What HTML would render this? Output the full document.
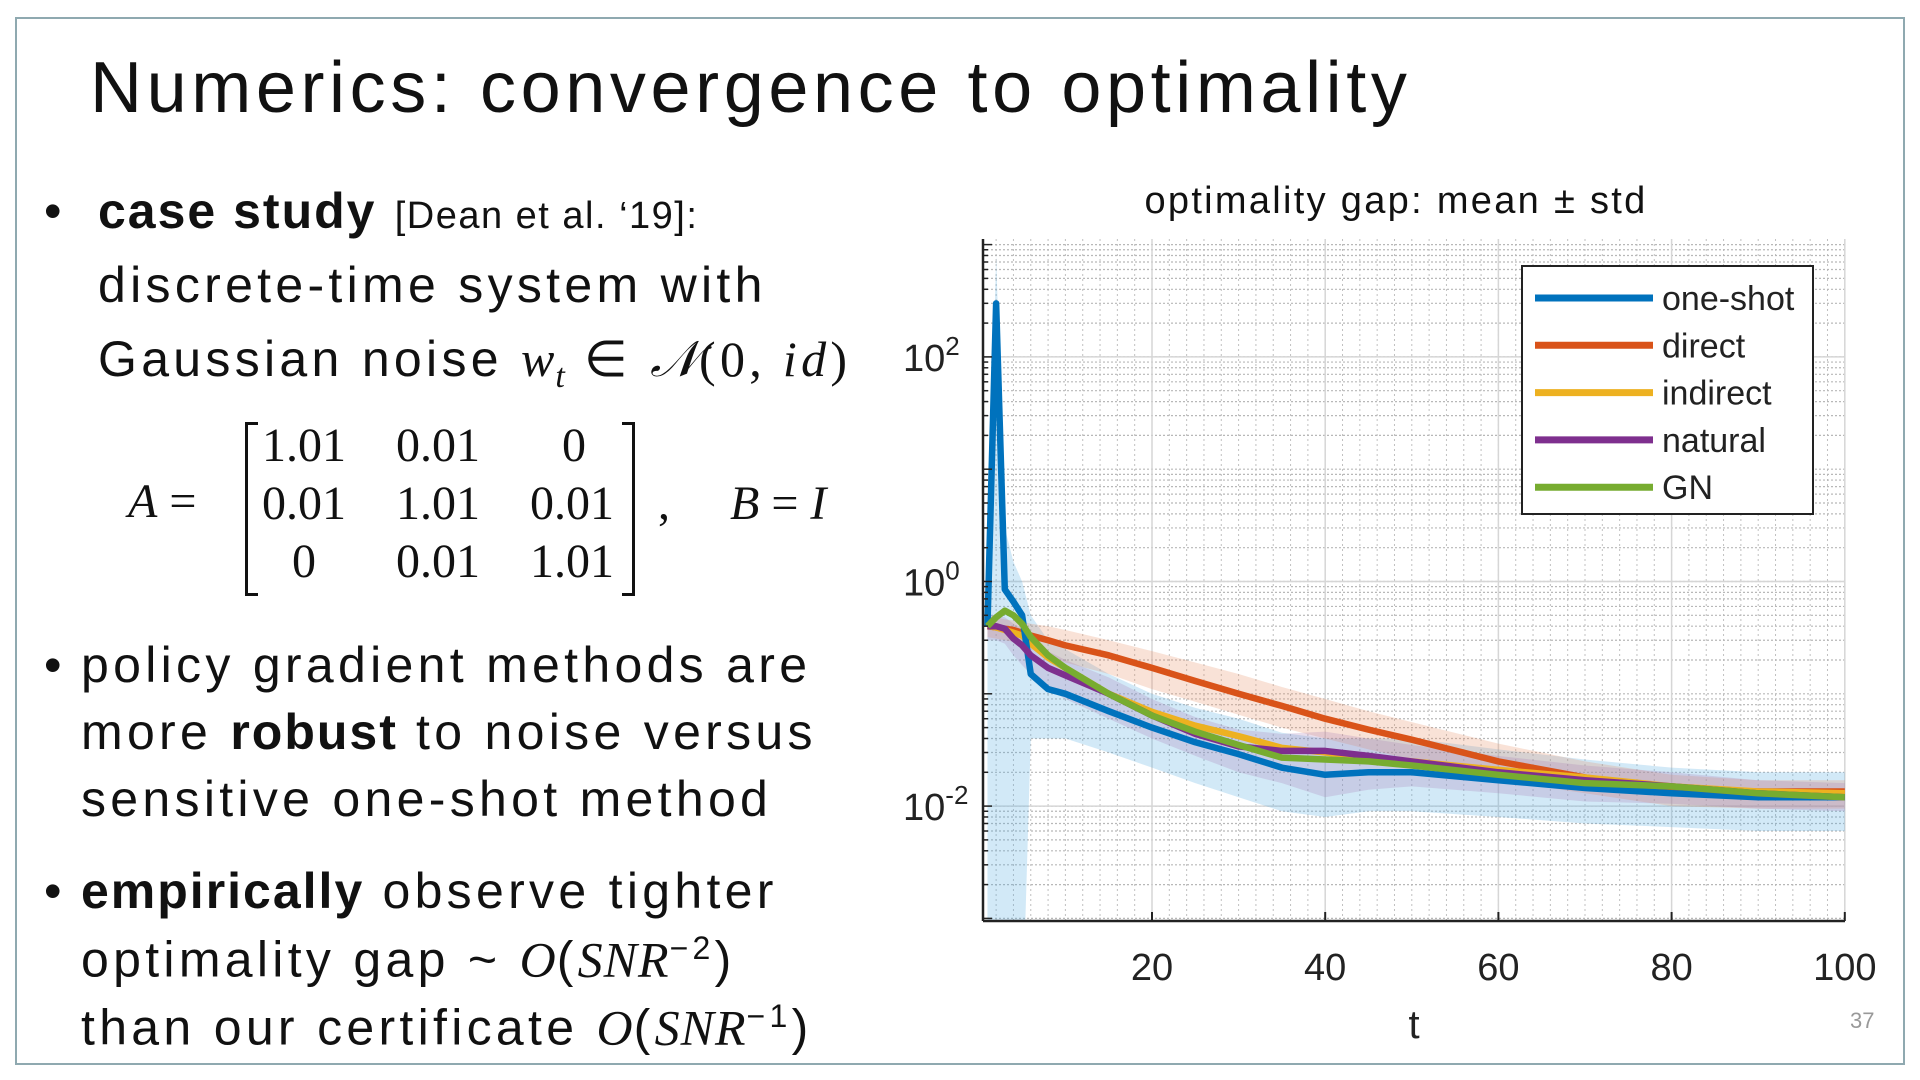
<!DOCTYPE html>
<html><head><meta charset="utf-8">
<style>
html,body{margin:0;padding:0;background:#fff;}
body{width:1920px;height:1080px;position:relative;overflow:hidden;font-family:"Liberation Sans",sans-serif;color:#111;}
.t{position:absolute;white-space:nowrap;line-height:1;}
.body{font-size:50px;letter-spacing:4.3px;}
.m{font-family:"Liberation Serif",serif;font-style:italic;letter-spacing:1px;}
.mx{font-family:"Liberation Serif",serif;font-size:48px;position:absolute;line-height:1;}
</style></head>
<body>
<div style="position:absolute;left:15px;top:17px;width:1886px;height:1044px;border:2px solid #8fa9b0;"></div>
<div class="t" style="left:90px;top:52px;font-size:72px;color:#111;letter-spacing:4.6px;">Numerics: convergence to optimality</div>

<div class="t body" style="left:44px;top:186px;">•</div>
<div class="t body" style="left:98px;top:186px;"><b style="letter-spacing:2px">case study</b> <span style="font-size:38px;letter-spacing:1.5px">[Dean et al. ‘19]:</span></div>
<div class="t body" style="left:98px;top:260px;">discrete-time system with</div>
<div class="t body" style="left:98px;top:334px;">Gaussian noise <span class="m">w<sub style="font-size:34px">t</sub></span> ∈ <span class="m">𝒩</span><span style="font-family:'Liberation Serif',serif">(0, <i>id</i>)</span></div>

<div class="mx" style="left:128px;top:478px;"><i>A</i> =</div>
<div style="position:absolute;left:245px;top:422px;width:10px;height:168px;border:3px solid #111;border-right:none;"></div>
<div style="position:absolute;left:622px;top:422px;width:10px;height:168px;border:3px solid #111;border-left:none;"></div>
<div class="mx" style="left:262px;top:422px;">1.01</div>
<div class="mx" style="left:396px;top:422px;">0.01</div>
<div class="mx" style="left:562px;top:422px;">0</div>
<div class="mx" style="left:262px;top:480px;">0.01</div>
<div class="mx" style="left:396px;top:480px;">1.01</div>
<div class="mx" style="left:530px;top:480px;">0.01</div>
<div class="mx" style="left:292px;top:538px;">0</div>
<div class="mx" style="left:396px;top:538px;">0.01</div>
<div class="mx" style="left:530px;top:538px;">1.01</div>
<div class="mx" style="left:658px;top:480px;">,&nbsp;&nbsp;&nbsp;&nbsp;&nbsp;<i>B</i> = <i>I</i></div>

<div class="t body" style="left:44px;top:640px;letter-spacing:0">•</div>
<div class="t body" style="left:81px;top:640px;">policy gradient methods are</div>
<div class="t body" style="left:81px;top:707px;">more <b style="letter-spacing:2px">robust</b> to noise versus</div>
<div class="t body" style="left:81px;top:774px;">sensitive one-shot method</div>

<div class="t body" style="left:44px;top:866px;letter-spacing:0">•</div>
<div class="t body" style="left:81px;top:866px;"><b style="letter-spacing:2px">empirically</b> observe tighter</div>
<div class="t body" style="left:81px;top:932px;">optimality gap ~ <span class="m">O</span>(<span class="m">SNR</span><sup style="font-size:32px">−2</sup>)</div>
<div class="t body" style="left:81px;top:1000px;">than our certificate <span class="m">O</span>(<span class="m">SNR</span><sup style="font-size:32px">−1</sup>)</div>
<div class="t" style="left:1850px;top:1010px;font-size:22px;color:#999;">37</div>

<svg id="chart" width="1920" height="1080" style="position:absolute;left:0;top:0;" xmlns="http://www.w3.org/2000/svg"></svg>

<script>
const tSteps = [1,2,3,4,5,6,8,10,15,20,25,30,35,40,45,50,60,70,80,90,100];
const oneShot = [0.4,300,0.85,0.66,0.5,0.15,0.11,0.1,0.07,0.05,0.037,0.029,0.022,0.019,0.02,0.02,0.017,0.0145,0.013,0.012,0.012];
const direct  = [0.4,0.39,0.38,0.37,0.35,0.33,0.30,0.27,0.22,0.17,0.13,0.10,0.078,0.06,0.048,0.039,0.025,0.018,0.014,0.0135,0.0135];
const indirect= [0.4,0.39,0.37,0.35,0.33,0.28,0.21,0.17,0.10,0.069,0.052,0.042,0.033,0.030,0.027,0.025,0.021,0.018,0.015,0.0135,0.013];
const natural = [0.4,0.4,0.38,0.31,0.27,0.22,0.17,0.146,0.10,0.064,0.044,0.034,0.031,0.031,0.028,0.025,0.020,0.017,0.015,0.013,0.012];
const gn      = [0.4,0.48,0.55,0.50,0.42,0.32,0.22,0.17,0.10,0.064,0.046,0.035,0.027,0.026,0.025,0.023,0.019,0.016,0.015,0.013,0.012];
const oneShotUpper = [0.6,800,3,1.5,1,0.5,0.3,0.25,0.15,0.1,0.075,0.06,0.045,0.04,0.04,0.04,0.032,0.026,0.022,0.02,0.02];
const oneShotLower = [0.0001,0.0001,0.0001,0.0001,0.0001,0.04,0.04,0.04,0.03,0.022,0.016,0.012,0.009,0.008,0.009,0.009,0.008,0.007,0.0065,0.006,0.006];
const directUpper = [0.5,0.48,0.46,0.45,0.44,0.42,0.4,0.37,0.3,0.24,0.19,0.15,0.115,0.09,0.07,0.056,0.036,0.025,0.019,0.017,0.017];
const directLower = [0.32,0.31,0.30,0.29,0.27,0.25,0.22,0.19,0.15,0.11,0.085,0.065,0.05,0.04,0.032,0.026,0.017,0.013,0.010,0.0095,0.0095];
const naturalUpper = [0.5,0.5,0.48,0.42,0.38,0.3,0.24,0.2,0.14,0.09,0.062,0.048,0.044,0.046,0.04,0.035,0.028,0.023,0.02,0.017,0.016];
const naturalLower = [0.3,0.3,0.28,0.22,0.18,0.15,0.11,0.09,0.06,0.04,0.028,0.02,0.016,0.012,0.014,0.015,0.013,0.011,0.0105,0.0095,0.009];
const xTicks = [20,40,60,80,100];
const yTickExps = [-2,0,2];
const legendNames = ['one-shot','direct','indirect','natural','GN'];
const colors = ['#0072bd','#d95319','#edb120','#7e2f8e','#77ac30'];

const svg = document.getElementById('chart');
const NS = 'http://www.w3.org/2000/svg';
const L = 983, R = 1845, T = 239, B = 921;
const xs = t => 1152 + (t - 20) * 8.66;
const ys = v => 581.5 - Math.log10(v) * 112.3;
function mk(tag, attrs, parent) {
  const e = document.createElementNS(NS, tag);
  for (const k in attrs) e.setAttribute(k, attrs[k]);
  (parent || svg).appendChild(e);
  return e;
}
const defs = mk('defs', {});
const cp = mk('clipPath', {id: 'plotclip'}, defs);
mk('rect', {x: L, y: T, width: R - L, height: B - T}, cp);

const grid = mk('g', {});


for (let t = 2; t <= 100; t += 2) {
  mk('line', {x1: xs(t), x2: xs(t), y1: T, y2: B, stroke: '#c0c0c0', 'stroke-width': 1, 'stroke-dasharray': '2,3'}, grid);
}
for (let e = -4; e <= 3; e++) {
  for (let m = 1; m <= 9; m++) {
    const y = ys(m * Math.pow(10, e));
    if (y < T || y > B) continue;
    mk('line', {x1: L, x2: R, y1: y, y2: y, stroke: '#b8b8b8', 'stroke-width': 1.2, 'stroke-dasharray': '2,2'}, grid);
  }
}
xTicks.forEach(t => mk('line', {x1: xs(t), x2: xs(t), y1: T, y2: B, stroke: '#d6d6d6', 'stroke-width': 1.5}, grid));
yTickExps.forEach(e => mk('line', {x1: L, x2: R, y1: ys(Math.pow(10, e)), y2: ys(Math.pow(10, e)), stroke: '#d6d6d6', 'stroke-width': 1.5}, grid));

const plot = mk('g', {'clip-path': 'url(#plotclip)'});
function band(up, lo, color, name) {
  let d = '';
  tSteps.forEach((t, i) => { d += (i ? 'L' : 'M') + xs(t) + ',' + ys(up[i]); });
  for (let i = tSteps.length - 1; i >= 0; i--) d += 'L' + xs(tSteps[i]) + ',' + ys(lo[i]);
  const p = mk('path', {d: d + 'Z', fill: color, 'fill-opacity': 0.25, stroke: 'none'}, plot);
  
  
}
band(oneShotUpper, oneShotLower, '#4da6e0', 'one-shot-std-band');
band(directUpper, directLower, '#e98a5e', 'direct-std-band');
band(naturalUpper, naturalLower, '#a77bb5', 'natural-std-band');

const seriesList = [oneShot, direct, indirect, natural, gn];
const drawOrder = [1, 2, 0, 3, 4];
drawOrder.forEach(k => {
  const vals = seriesList[k];
  const pts = tSteps.map((t, i) => xs(t) + ',' + ys(vals[i])).join(' ');
  const pl = mk('polyline', {points: pts, fill: 'none', stroke: colors[k], 'stroke-width': 6.5, 'stroke-linejoin': 'round'}, plot);
  
  
});

const ax = mk('g', {});


mk('line', {x1: L, x2: L, y1: T, y2: B, stroke: '#222', 'stroke-width': 2.5}, ax);
mk('line', {x1: L, x2: R, y1: B, y2: B, stroke: '#222', 'stroke-width': 2.5}, ax);
xTicks.forEach(t => {
  mk('line', {x1: xs(t), x2: xs(t), y1: B, y2: B - 9, stroke: '#222', 'stroke-width': 2}, ax);
  const tx = mk('text', {x: xs(t), y: 980, 'text-anchor': 'middle', 'font-size': 38, fill: '#222', 'font-family': 'Liberation Sans'}, ax);
  tx.textContent = t;
  
  
});
for (let e = -4; e <= 3; e++) for (let m = 1; m <= 9; m++) {
  const y = ys(m * Math.pow(10, e));
  if (y < T || y > B) continue;
  mk('line', {x1: L, x2: L + (m === 1 ? 9 : 5), y1: y, y2: y, stroke: '#222', 'stroke-width': 1.5}, ax);
}
yTickExps.forEach(e => {
  const tx = mk('text', {x: 903, y: ys(Math.pow(10, e)) + 14, 'font-size': 38, fill: '#222', 'font-family': 'Liberation Sans'}, ax);
  tx.textContent = '10';
  const sp = mk('tspan', {dy: -16, 'font-size': 26}, tx);
  sp.textContent = String(e);
  
  
});
const xl = mk('text', {x: 1414, y: 1038, 'text-anchor': 'middle', 'font-size': 40, fill: '#222', 'font-family': 'Liberation Sans'}, ax);
xl.textContent = 't';


const ct = mk('text', {x: 1396, y: 213, 'text-anchor': 'middle', 'font-size': 38, fill: '#111', 'font-family': 'Liberation Sans', 'letter-spacing': 2.3});
ct.textContent = 'optimality gap: mean ± std';



const lg = mk('g', {});


mk('rect', {x: 1522, y: 266, width: 291, height: 248, fill: '#fff', stroke: '#222', 'stroke-width': 2}, lg);
legendNames.forEach((n, i) => {
  const y = 298 + i * 47.3;
  const g = mk('g', {}, lg);
  
  
  mk('line', {x1: 1535, x2: 1653, y1: y, y2: y, stroke: colors[i], 'stroke-width': 7}, g);
  const tx = mk('text', {x: 1662, y: y + 12, 'font-size': 34, fill: '#222', 'font-family': 'Liberation Sans'}, g);
  tx.textContent = n;
});
</script>
</body></html>
